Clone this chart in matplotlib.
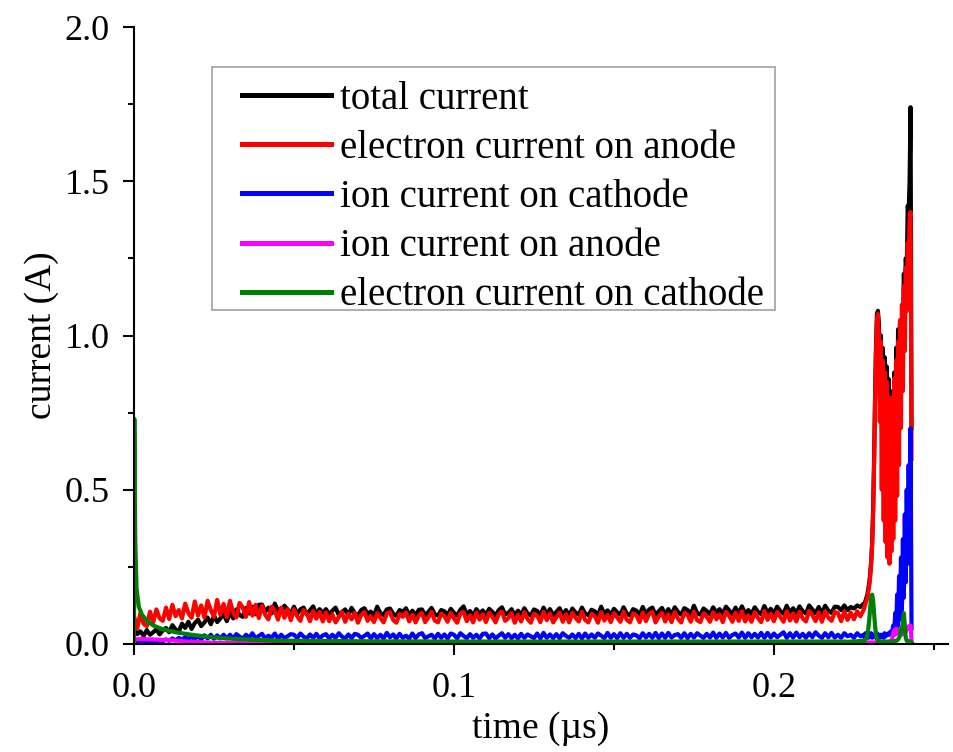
import numpy as np
import matplotlib
matplotlib.use("Agg")
import matplotlib.pyplot as plt
from matplotlib.ticker import MultipleLocator, FormatStrFormatter
from matplotlib.patches import Rectangle

plt.rcParams['font.family'] = ['Liberation Serif', 'DejaVu Serif']

# ---------------- data ----------------
labels = ["total current", "electron current on anode", "ion current on cathode",
          "ion current on anode", "electron current on cathode"]
line_colors = ["#000000", "#ff0000", "#0000ff", "#ff00ff", "#008000"]

# sampling grid (µs): 0.000 ... 0.219 every 0.001, then finer grid through the breakdown
t_base = np.round(np.arange(220) * 0.001, 4)
t_spike = np.round(np.concatenate([0.220 + 0.001 * np.arange(8),
                                   0.2280 + 0.0003 * np.arange(51)]), 4)

total_base = [
    0.050, 0.032, 0.041, 0.026, 0.045, 0.030, 0.038, 0.048, 0.031, 0.044,
    0.052, 0.038, 0.061, 0.047, 0.040, 0.066, 0.052, 0.072, 0.049, 0.068,
    0.079, 0.058, 0.070, 0.086, 0.064, 0.092, 0.071, 0.083, 0.097, 0.074,
    0.102, 0.083, 0.112, 0.094, 0.088, 0.117, 0.099, 0.121, 0.096, 0.127,
    0.128, 0.104, 0.118, 0.099, 0.131, 0.108, 0.102, 0.124, 0.112, 0.099,
    0.121, 0.098, 0.112, 0.118, 0.096, 0.109, 0.122, 0.095, 0.113, 0.101,
    0.113, 0.096, 0.108, 0.118, 0.094, 0.104, 0.112, 0.093, 0.117, 0.100,
    0.092, 0.110, 0.116, 0.097, 0.105, 0.091, 0.121, 0.100, 0.094, 0.112,
    0.115, 0.098, 0.091, 0.110, 0.104, 0.116, 0.093, 0.108, 0.092, 0.111,
    0.112, 0.093, 0.104, 0.117, 0.096, 0.092, 0.110, 0.106, 0.093, 0.114,
    0.101, 0.092, 0.111, 0.122, 0.095, 0.107, 0.091, 0.113, 0.098, 0.109,
    0.093, 0.114, 0.104, 0.092, 0.110, 0.119, 0.096, 0.101, 0.113, 0.092,
    0.108, 0.095, 0.116, 0.099, 0.092, 0.112, 0.107, 0.093, 0.118, 0.097,
    0.113, 0.093, 0.104, 0.116, 0.094, 0.110, 0.092, 0.115, 0.102, 0.095,
    0.118, 0.099, 0.093, 0.111, 0.106, 0.092, 0.121, 0.097, 0.109, 0.094,
    0.114, 0.103, 0.095, 0.119, 0.099, 0.093, 0.113, 0.108, 0.094, 0.120,
    0.097, 0.112, 0.118, 0.094, 0.106, 0.117, 0.096, 0.113, 0.095, 0.119,
    0.104, 0.095, 0.116, 0.110, 0.096, 0.124, 0.100, 0.095, 0.115, 0.107,
    0.096, 0.119, 0.102, 0.113, 0.097, 0.121, 0.109, 0.097, 0.118, 0.099,
    0.122, 0.098, 0.110, 0.097, 0.119, 0.104, 0.097, 0.123, 0.101, 0.114,
    0.099, 0.121, 0.107, 0.098, 0.124, 0.101, 0.116, 0.099, 0.122, 0.106,
    0.099, 0.125, 0.112, 0.100, 0.120, 0.098, 0.124, 0.108, 0.101, 0.121,
]
total_spike = [
    0.12, 0.11, 0.125, 0.11, 0.12, 0.115, 0.125, 0.12,
    0.13, 0.13, 0.14, 0.15, 0.16, 0.18, 0.20, 0.23, 0.27, 0.33,
    0.44, 0.60, 0.80, 0.97, 1.07, 1.08, 1.04, 0.90, 1.00, 0.80,
    0.96, 0.70, 0.93, 0.60, 0.90, 0.55, 0.86, 0.50, 0.82, 0.50,
    0.80, 0.55, 0.88, 0.60, 0.96, 0.70, 1.02, 0.80, 1.04, 0.90,
    1.05, 1.00, 1.20, 1.10, 1.25, 1.20, 1.42, 1.40, 1.50, 1.74, 0.70,
]

e_anode_base = [
    0.090, 0.050, 0.100, 0.065, 0.058, 0.105, 0.070, 0.112, 0.083, 0.075,
    0.118, 0.081, 0.127, 0.090, 0.110, 0.083, 0.131, 0.100, 0.085, 0.138,
    0.092, 0.125, 0.086, 0.140, 0.110, 0.088, 0.143, 0.095, 0.130, 0.087,
    0.140, 0.100, 0.086, 0.133, 0.118, 0.088, 0.136, 0.092, 0.127, 0.084,
    0.124, 0.095, 0.080, 0.121, 0.108, 0.079, 0.118, 0.085, 0.113, 0.077,
    0.112, 0.090, 0.075, 0.110, 0.098, 0.074, 0.107, 0.082, 0.104, 0.073,
    0.102, 0.074, 0.096, 0.070, 0.088, 0.103, 0.072, 0.098, 0.080, 0.101,
    0.069, 0.094, 0.104, 0.075, 0.090, 0.071, 0.100, 0.085, 0.070, 0.099,
    0.103, 0.078, 0.069, 0.097, 0.088, 0.102, 0.073, 0.095, 0.070, 0.092,
    0.100, 0.071, 0.086, 0.104, 0.076, 0.070, 0.098, 0.090, 0.072, 0.101,
    0.083, 0.069, 0.099, 0.104, 0.074, 0.093, 0.070, 0.102, 0.079, 0.096,
    0.071, 0.101, 0.088, 0.070, 0.097, 0.105, 0.075, 0.084, 0.100, 0.069,
    0.095, 0.073, 0.103, 0.081, 0.069, 0.098, 0.092, 0.071, 0.104, 0.077,
    0.099, 0.070, 0.087, 0.102, 0.072, 0.096, 0.070, 0.101, 0.085, 0.073,
    0.104, 0.078, 0.070, 0.097, 0.090, 0.069, 0.103, 0.076, 0.094, 0.071,
    0.100, 0.086, 0.072, 0.105, 0.079, 0.070, 0.099, 0.093, 0.071, 0.102,
    0.074, 0.097, 0.104, 0.070, 0.089, 0.101, 0.073, 0.096, 0.071, 0.103,
    0.082, 0.070, 0.100, 0.094, 0.072, 0.105, 0.077, 0.071, 0.099, 0.088,
    0.072, 0.103, 0.080, 0.096, 0.071, 0.104, 0.091, 0.072, 0.101, 0.075,
    0.106, 0.073, 0.092, 0.072, 0.103, 0.085, 0.071, 0.107, 0.078, 0.098,
    0.074, 0.104, 0.088, 0.072, 0.106, 0.076, 0.099, 0.073, 0.105, 0.083,
    0.073, 0.107, 0.094, 0.074, 0.102, 0.072, 0.106, 0.086, 0.075, 0.104,
]
e_anode_spike = [
    0.100, 0.074, 0.105, 0.078, 0.102, 0.080, 0.106, 0.090,
    0.11, 0.12, 0.13, 0.14, 0.15, 0.17, 0.19, 0.22, 0.26, 0.32,
    0.42, 0.58, 0.78, 0.95, 1.05, 1.07, 1.00, 0.72, 0.98, 0.50,
    0.92, 0.40, 0.88, 0.33, 0.85, 0.28, 0.80, 0.26, 0.78, 0.30,
    0.80, 0.34, 0.86, 0.40, 0.92, 0.48, 0.98, 0.58, 1.05, 0.70,
    1.10, 0.82, 1.16, 0.95, 1.22, 1.08, 1.30, 1.20, 1.38, 1.40, 0.60,
]

ion_cathode_base = [
    0.005, 0.003, 0.006, 0.004, 0.008, 0.005, 0.010, 0.006, 0.012, 0.008,
    0.015, 0.010, 0.018, 0.012, 0.020, 0.014, 0.022, 0.015, 0.024, 0.016,
    0.026, 0.015, 0.028, 0.018, 0.030, 0.017, 0.028, 0.018, 0.030, 0.018,
    0.030, 0.018, 0.032, 0.024, 0.017, 0.030, 0.020, 0.035, 0.018, 0.026,
    0.033, 0.018, 0.027, 0.020, 0.034, 0.017, 0.030, 0.019, 0.025, 0.032,
    0.030, 0.019, 0.034, 0.024, 0.018, 0.031, 0.020, 0.033, 0.017, 0.028,
    0.032, 0.018, 0.030, 0.020, 0.035, 0.024, 0.018, 0.031, 0.019, 0.033,
    0.030, 0.020, 0.026, 0.034, 0.018, 0.032, 0.019, 0.030, 0.018, 0.036,
    0.022, 0.031, 0.018, 0.033, 0.020, 0.027, 0.018, 0.034, 0.019, 0.031,
    0.035, 0.019, 0.025, 0.030, 0.018, 0.033, 0.020, 0.031, 0.018, 0.034,
    0.030, 0.018, 0.035, 0.026, 0.019, 0.032, 0.020, 0.030, 0.018, 0.033,
    0.034, 0.019, 0.031, 0.018, 0.027, 0.035, 0.020, 0.032, 0.019, 0.030,
    0.018, 0.033, 0.020, 0.031, 0.025, 0.019, 0.034, 0.018, 0.036, 0.020,
    0.031, 0.019, 0.032, 0.019, 0.035, 0.026, 0.020, 0.031, 0.019, 0.033,
    0.018, 0.034, 0.020, 0.031, 0.020, 0.034, 0.027, 0.019, 0.036, 0.020,
    0.032, 0.019, 0.035, 0.020, 0.033, 0.020, 0.031, 0.028, 0.019, 0.035,
    0.021, 0.033, 0.020, 0.036, 0.019, 0.034, 0.020, 0.036, 0.021, 0.029,
    0.032, 0.020, 0.035, 0.019, 0.033, 0.021, 0.035, 0.027, 0.020, 0.033,
    0.021, 0.037, 0.020, 0.034, 0.021, 0.036, 0.020, 0.029, 0.034, 0.021,
    0.037, 0.020, 0.035, 0.022, 0.033, 0.021, 0.036, 0.020, 0.036, 0.021,
    0.034, 0.022, 0.030, 0.038, 0.020, 0.035, 0.021, 0.037, 0.022, 0.033,
    0.020, 0.035, 0.022, 0.038, 0.027, 0.020, 0.035, 0.022, 0.036, 0.021,
]
ion_cathode_spike = [
    0.030, 0.020, 0.035, 0.025, 0.030, 0.020, 0.035, 0.025,
    0.030, 0.020, 0.035, 0.025, 0.030, 0.020, 0.030, 0.025, 0.035, 0.020,
    0.030, 0.025, 0.030, 0.020, 0.035, 0.025, 0.030, 0.020, 0.030, 0.025,
    0.030, 0.020, 0.035, 0.025, 0.030, 0.030, 0.035, 0.030, 0.040, 0.040,
    0.040, 0.060, 0.035, 0.100, 0.045, 0.160, 0.060, 0.220, 0.080, 0.280,
    0.110, 0.340, 0.150, 0.420, 0.200, 0.500, 0.260, 0.580, 0.330, 0.700, 0.050,
]

# ion current on anode: own sparse sampling before the breakdown
t_ion_anode_base = [0.0, 0.003, 0.008, 0.013, 0.018, 0.025, 0.035, 0.06,
                    0.10, 0.15, 0.20, 0.219]
ion_anode_base = [0.015, 0.016, 0.014, 0.011, 0.007, 0.004, 0.003, 0.003,
                  0.004, 0.004, 0.005, 0.005]
ion_anode_spike = [
    0.005, 0.005, 0.005, 0.005, 0.005, 0.005, 0.005, 0.005,
    0.005, 0.005, 0.005, 0.005, 0.005, 0.005, 0.005, 0.005, 0.005, 0.005,
    0.005, 0.005, 0.005, 0.005, 0.005, 0.005, 0.005, 0.005, 0.005, 0.005,
    0.005, 0.005, 0.005, 0.005, 0.005, 0.005, 0.005, 0.006, 0.008, 0.010,
    0.020, 0.035, 0.045, 0.030, 0.050, 0.040, 0.035, 0.045, 0.030, 0.040,
    0.030, 0.040, 0.045, 0.050, 0.040, 0.050, 0.055, 0.050, 0.060, 0.060, 0.010,
]

# electron current on cathode: own sparse sampling before the breakdown
t_e_cathode_base = [0.0, 0.0001, 0.0004, 0.0008, 0.0015, 0.0025, 0.004, 0.006,
                    0.009, 0.013, 0.018, 0.024, 0.032, 0.045, 0.07, 0.10,
                    0.15, 0.20, 0.219]
e_cathode_base = [0.0, 0.73, 0.33, 0.18, 0.12, 0.095, 0.075, 0.06,
                  0.048, 0.038, 0.03, 0.022, 0.016, 0.011, 0.009, 0.008,
                  0.008, 0.008, 0.008]
e_cathode_spike = [
    0.008, 0.007, 0.008, 0.007, 0.008, 0.008, 0.009, 0.010,
    0.010, 0.012, 0.015, 0.020, 0.030, 0.050, 0.080, 0.120, 0.150, 0.160,
    0.140, 0.100, 0.060, 0.030, 0.015, 0.010, 0.008, 0.008, 0.007, 0.008,
    0.008, 0.008, 0.008, 0.008, 0.008, 0.008, 0.008, 0.008, 0.008, 0.008,
    0.008, 0.008, 0.009, 0.010, 0.010, 0.012, 0.015, 0.020, 0.030, 0.050,
    0.040, 0.070, 0.100, 0.060, 0.020, 0.010, 0.010, 0.008, 0.008, 0.008, 0.005,
]

x_ticks = [0.0, 0.1, 0.2]
y_ticks = [0.0, 0.5, 1.0, 1.5, 2.0]

# ---------------- plot ----------------
W, H = 954, 752
fig = plt.figure(figsize=(W / 100, H / 100), dpi=100)
ax = fig.add_axes([134 / W, 108 / H, 814 / W, 617 / H])

series = [
    (np.concatenate([t_base, t_spike]), total_base + total_spike),
    (np.concatenate([t_base, t_spike]), e_anode_base + e_anode_spike),
    (np.concatenate([t_base, t_spike]), ion_cathode_base + ion_cathode_spike),
    (np.concatenate([t_ion_anode_base, t_spike]), ion_anode_base + ion_anode_spike),
    (np.concatenate([t_e_cathode_base, t_spike]), e_cathode_base + e_cathode_spike),
]
for (tt, vv), lab, col in zip(series, labels, line_colors):
    ax.plot(tt, vv, color=col, lw=3.0, label=lab)

ax.set_xlim(0, 0.2544)
ax.set_ylim(0, 2.0)
ax.set_xticks(x_ticks)
ax.set_yticks(y_ticks)
ax.xaxis.set_minor_locator(MultipleLocator(0.05))
ax.yaxis.set_minor_locator(MultipleLocator(0.25))
ax.xaxis.set_major_formatter(FormatStrFormatter('%.1f'))
ax.yaxis.set_major_formatter(FormatStrFormatter('%.1f'))

for s in ['top', 'right']:
    ax.spines[s].set_visible(False)
for s in ['left', 'bottom']:
    ax.spines[s].set_linewidth(1.5)

ax.tick_params(which='major', direction='out', length=8, width=1.5, labelsize=26)
ax.tick_params(which='minor', direction='out', length=4, width=1.5)
ax.tick_params(axis='x', which='major', pad=12)
ax.tick_params(axis='y', which='major', pad=9.5)

ax.set_xlabel("time (µs)", fontsize=27, labelpad=5)
ax.set_ylabel("current (A)", fontsize=27, labelpad=4)

# legend entries (no own frame); the frame is drawn separately
leg = ax.legend(loc='upper left', bbox_to_anchor=(242 / W, (H - 81) / H),
                bbox_transform=fig.transFigure, fontsize=28, frameon=False,
                borderaxespad=0.0, borderpad=0.0, handlelength=2.3,
                handletextpad=0.22, labelspacing=0.31)
for h in leg.get_lines():
    h.set_linewidth(3.6)
fig.add_artist(Rectangle((212 / W, (H - 310) / H), 563 / W, 243 / H,
                         transform=fig.transFigure, fill=False,
                         edgecolor='#a0a0a0', linewidth=1.2))

fig.savefig("out.png", dpi=100)
